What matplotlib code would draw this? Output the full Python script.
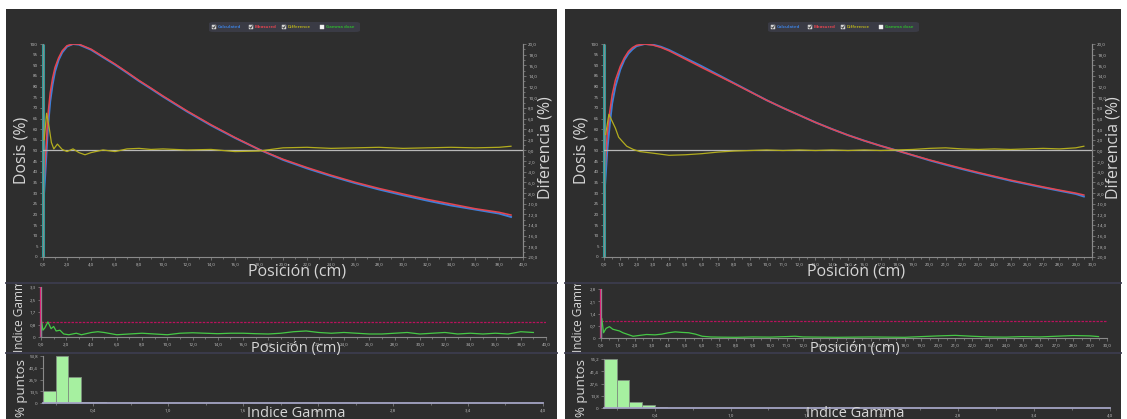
import matplotlib
matplotlib.use("Agg")
import matplotlib.pyplot as plt
from matplotlib.patches import Rectangle, FancyBboxPatch
from matplotlib.lines import Line2D
from matplotlib.ticker import MultipleLocator, FixedLocator, FuncFormatter
from matplotlib.transforms import Bbox, TransformedBbox

plt.rcParams['font.family'] = ['Open Sans', 'DejaVu Sans']

# ---------------- data: left panel (0-40 cm) ----------------
left_pos = [0, 0.2, 0.4, 0.6, 0.8, 1.0, 1.3, 1.6, 2.0, 2.5, 3, 4, 5, 6, 7, 8, 9, 10,
            12, 14, 16, 18, 20, 22, 24, 26, 28, 30, 32, 34, 36, 38, 39]
left_calc = [22, 40, 60, 73, 81, 87, 92.5, 96, 98.8, 100, 99.7, 97.3, 93.8, 90.3, 86.5,
             82.6, 79, 75.3, 68.3, 61.8, 55.9, 50.5, 45.6, 41.6, 38.0, 34.7, 31.7, 29.0,
             26.5, 24.2, 22.3, 20.4, 18.8]
left_meas = [26, 46, 66, 77, 84, 89, 93.5, 96.8, 99.2, 100, 99.9, 97.6, 94.1, 90.6, 86.8,
             82.9, 79.3, 75.6, 68.6, 62.1, 56.1, 50.5, 45.9, 42.0, 38.4, 35.1, 32.2, 29.6,
             27.1, 24.9, 22.7, 21.0, 19.7]
left_diff_pos = [0.1, 0.3, 0.5, 0.7, 0.9, 1.2, 1.6, 2.0, 2.5, 3.0, 3.5, 4.0, 5, 6, 7, 8, 9,
                 10, 12, 14, 16, 18, 20, 22, 24, 26, 28, 30, 32, 34, 36, 38, 39]
left_diff = [2.0, 7.0, 4.5, 1.5, 0.3, 1.2, 0.2, -0.2, 0.3, -0.4, -0.8, -0.4, 0.1, -0.2, 0.3,
             0.4, 0.2, 0.3, 0.1, 0.2, -0.2, -0.1, 0.5, 0.6, 0.4, 0.5, 0.6, 0.4, 0.5, 0.6,
             0.5, 0.6, 0.8]
left_gamma_pos = [0.05, 0.15, 0.3, 0.55, 0.8, 1.0, 1.2, 1.5, 1.8, 2.2, 2.8, 3.2, 4.0, 4.5,
                  5.0, 6, 7, 8, 9, 10, 11, 12, 13, 14, 15, 16, 17, 18, 19, 20, 21, 22, 23,
                  24, 25, 26, 27, 28, 29, 30, 31, 32, 33, 34, 35, 36, 37, 38, 39]
left_gamma = [1.0, 0.45, 0.6, 1.0, 0.55, 0.7, 0.4, 0.45, 0.2, 0.15, 0.25, 0.15, 0.3, 0.35,
              0.3, 0.15, 0.2, 0.25, 0.2, 0.15, 0.25, 0.28, 0.25, 0.22, 0.25, 0.25, 0.22,
              0.2, 0.25, 0.35, 0.4, 0.3, 0.25, 0.3, 0.25, 0.2, 0.2, 0.25, 0.3, 0.2, 0.25,
              0.3, 0.2, 0.25, 0.2, 0.25, 0.2, 0.35, 0.3]
left_hist_bins = [0.0, 0.1, 0.2, 0.3, 0.4]
left_hist_pct = [13.2, 53.8, 29.6, 1.6, 0.9]
left_gamma_max = 3.32
left_hist_max = 53.84

# ---------------- data: right panel (0-30 cm) ----------------
right_pos = [0, 0.1, 0.2, 0.35, 0.5, 0.7, 1.0, 1.25, 1.5, 1.75, 2.0, 2.5, 3, 3.5, 4, 5, 6,
             7, 8, 9, 10, 11, 12, 13, 14, 15, 16, 17, 18, 19, 20, 21, 22, 23, 24, 25, 26,
             27, 28, 29, 29.5]
right_calc = [26, 38, 50, 62, 72, 80, 88, 92.5, 95.5, 97.5, 99, 100, 99.7, 98.7, 97.2, 93.4,
              89.6, 85.6, 81.6, 77.6, 73.6, 70.0, 66.6, 63.2, 60.1, 57.2, 54.6, 52.2, 50.0,
              47.7, 45.4, 43.3, 41.3, 39.4, 37.6, 35.8, 34.2, 32.6, 31.1, 29.6, 28.4]
right_meas = [30, 45, 58, 68, 76, 83, 89.5, 93.5, 96.5, 98.3, 99.4, 100, 99.5, 98.4, 96.8,
              92.9, 89.0, 85.2, 81.4, 77.5, 73.6, 70.0, 66.6, 63.2, 60.1, 57.2, 54.6, 52.2,
              50.0, 47.8, 45.6, 43.6, 41.6, 39.7, 37.9, 36.1, 34.5, 32.9, 31.4, 30.0, 29.1]
right_diff_pos = [0.1, 0.3, 0.5, 0.7, 0.9, 1.1, 1.4, 1.8, 2.2, 3, 4, 5, 6, 7, 8, 9, 10, 11,
                  12, 13, 14, 15, 16, 17, 18, 19, 20, 21, 22, 23, 24, 25, 26, 27, 28, 29, 29.5]
right_diff = [3.0, 6.8, 5.5, 4.2, 2.5, 1.8, 0.8, 0.2, -0.2, -0.5, -0.9, -0.8, -0.6, -0.3,
              -0.1, 0.0, 0.1, 0.0, 0.1, 0.0, 0.1, 0.0, 0.1, 0.0, 0.1, 0.2, 0.4, 0.5, 0.3,
              0.2, 0.3, 0.2, 0.3, 0.4, 0.3, 0.5, 0.8]
right_gamma_pos = [0.05, 0.15, 0.3, 0.5, 0.7, 0.9, 1.1, 1.3, 1.6, 1.9, 2.3, 2.7, 3.2, 3.6,
                   4.0, 4.4, 4.8, 5.2, 5.6, 6.0, 6.5, 7, 8, 9, 10, 11, 11.5, 12, 13, 14, 15,
                   16, 17, 18, 19, 20, 21, 22, 23, 24, 25, 26, 27, 28, 29, 29.5]
right_gamma = [1.1, 0.3, 0.55, 0.65, 0.5, 0.45, 0.4, 0.3, 0.2, 0.1, 0.15, 0.2, 0.18, 0.22,
               0.3, 0.35, 0.32, 0.3, 0.22, 0.1, 0.06, 0.05, 0.04, 0.06, 0.05, 0.08, 0.1,
               0.06, 0.05, 0.04, 0.05, 0.06, 0.05, 0.04, 0.08, 0.12, 0.15, 0.1, 0.06, 0.05,
               0.08, 0.06, 0.1, 0.14, 0.12, 0.08]
right_hist_bins = [0.0, 0.1, 0.2, 0.3, 0.4, 0.5]
right_hist_pct = [55.2, 31.2, 6.8, 3.4, 0.8, 0.5]
right_gamma_max = 2.8
right_hist_max = 55.2

legend_items = ['Calculated', 'Measured', 'Difference', 'Gamma dose']

# ---------------- style ----------------
BG = '#2e2e2e'
BLUE = '#3d7fd9'
RED = '#e5454f'
OLIVE = '#b3ad1e'
GREEN = '#46c846'
TEAL = '#2a9e9a'
PINK = '#e0207a'
TXT = '#d6d6d6'
SPINE = '#8a8a8a'

W, H = 1127, 419
fig = plt.figure(figsize=(W / 100, H / 100), dpi=100, facecolor='white')


def fx(px):
    return px / W


def fy(py):
    return 1 - py / H


def axes_px(x0, y0, x1, y1):
    ax = fig.add_axes([fx(x0), fy(y1), (x1 - x0) / W, (y1 - y0) / H])
    ax.set_facecolor('none')
    return ax


def comma(fmt, zero=None):
    def f(v, p):
        if zero is not None and abs(v) < 1e-9:
            return zero
        return (fmt % v).replace('.', ',')
    return FuncFormatter(f)


def style(ax, spines=('left', 'bottom')):
    for name, sp in ax.spines.items():
        sp.set_visible(name in spines)
        sp.set_color(SPINE)
        sp.set_linewidth(0.8)
    ax.tick_params(which='both', colors=SPINE, labelcolor='#c4c4c4', labelsize=3.2,
                   width=0.5, pad=1.5)
    ax.tick_params(which='major', length=2.2)
    ax.tick_params(which='minor', length=1.2)


def label(x, y, s, size, rot=0, clip=None):
    t = fig.text(fx(x), fy(y), s, ha='center', va='center', rotation=rot,
                 fontsize=size, color=TXT)
    if clip is not None:
        bb = Bbox([[fx(clip[0]), fy(clip[3])], [fx(clip[2]), fy(clip[1])]])
        t.set_clip_box(TransformedBbox(bb, fig.transFigure))
        t.set_clip_on(True)
    return t


def legend(x0, y=27):
    fig.add_artist(FancyBboxPatch((fx(x0), fy(y + 5)), 151 / W, 10 / H,
                                  boxstyle='round,pad=0,rounding_size=0.004',
                                  fc='#3a3b45', ec='none', transform=fig.transFigure))
    offs = [3, 40, 73, 111]
    cols = [BLUE, RED, OLIVE, '#2fb02f']
    for i, (dx, lab, col) in enumerate(zip(offs, legend_items, cols)):
        checked = i < 3
        fig.add_artist(Rectangle((fx(x0 + dx), fy(y + 2)), 4 / W, 4 / H,
                                 fc='#d0d0d0' if checked else '#f4f4f4', ec='#e0e0e0',
                                 lw=0.3, transform=fig.transFigure))
        if checked:
            fig.add_artist(Line2D([fx(x0 + dx + 0.8), fx(x0 + dx + 1.8), fx(x0 + dx + 3.3)],
                                  [fy(y + 0.2), fy(y + 1.3), fy(y - 1.3)],
                                  color='#333333', lw=0.6, transform=fig.transFigure))
        fig.text(fx(x0 + dx + 6), fy(y), lab, color=col, fontsize=3.2, weight='bold',
                 ha='left', va='center')


def panel(px0, px1, g, xmax, xstep, pos, calc, meas, dpos, diff, gpos, gam, gmax,
          hbins, hpct, hmax):
    # background and separators
    fig.add_artist(Rectangle((fx(px0), 0), (px1 - px0) / W, fy(9), fc=BG, ec='none',
                             transform=fig.transFigure, zorder=-5))
    for yy in (283, 353):
        fig.add_artist(Line2D([fx(px0), fx(px1)], [fy(yy), fy(yy)], color='#3c3c4e',
                              lw=1.3, transform=fig.transFigure, zorder=-4))
    legend(px0 + 203)

    # dose profile
    ax = axes_px(g['dx0'], 44, g['dx1'], 257)
    style(ax, ('left', 'bottom', 'right'))
    ax.plot(pos, calc, color=BLUE, lw=1.4)
    ax.plot(pos, meas, color=RED, lw=1.1)
    ax.vlines(0, 0, 100, color=TEAL, lw=2.2, clip_on=False)
    ax.set_xlim(0, xmax)
    ax.set_ylim(0, 100)
    ax.xaxis.set_major_locator(MultipleLocator(xstep))
    ax.xaxis.set_minor_locator(MultipleLocator(xstep / 2))
    ax.xaxis.set_major_formatter(comma('%.1f'))
    ax.yaxis.set_major_locator(MultipleLocator(5))
    ax.yaxis.set_major_formatter(FuncFormatter(lambda v, p: '%d' % v))
    ax2 = ax.twinx()
    ax2.set_facecolor('none')
    style(ax2, ('right',))
    ax2.axhline(0, color='#b8b8b8', lw=0.9)
    ax2.plot(dpos, diff, color=OLIVE, lw=0.9)
    ax2.set_ylim(-20, 20)
    ax2.yaxis.set_major_locator(MultipleLocator(2))
    ax2.yaxis.set_minor_locator(MultipleLocator(1))
    ax2.yaxis.set_major_formatter(comma('%.1f'))

    # gamma index
    gx = axes_px(g['gx0'], g['gy0'], g['gx1'], g['gy1'])
    style(gx)
    gx.axhline(1, color='#b8125c', lw=0.9, ls=(0, (2, 1)))
    gx.vlines(0, 0, gmax, color=PINK, lw=1.6, clip_on=False)
    gx.vlines(0, 0, 1, color=TEAL, lw=1.0, clip_on=False)
    gx.plot(gpos, gam, color=GREEN, lw=0.9)
    gx.set_xlim(0, xmax)
    gx.set_ylim(0, gmax)
    gx.xaxis.set_major_locator(MultipleLocator(xstep))
    gx.xaxis.set_minor_locator(MultipleLocator(xstep / 2))
    gx.xaxis.set_major_formatter(comma('%.1f'))
    gx.yaxis.set_major_locator(FixedLocator([gmax * k / 4 for k in range(5)]))
    gx.yaxis.set_major_formatter(comma('%.1f', zero='0'))

    # histogram
    hx = axes_px(g['hx0'], g['hy0'], g['hx1'], g['hy1'])
    style(hx)
    hx.spines['bottom'].set_color('#a4a4c4')
    hx.spines['bottom'].set_linewidth(1.3)
    hx.bar(hbins, hpct, width=0.1, align='edge', color='#a6f0a0', edgecolor='#7f8f80',
           lw=0.6)
    hx.set_xlim(0, 4)
    hx.set_ylim(0, hmax)
    hx.xaxis.set_major_locator(FixedLocator([0.4 + 0.6 * k for k in range(7)]))
    hx.xaxis.set_minor_locator(FixedLocator([0.1 + 0.6 * k for k in range(7)]))
    hx.xaxis.set_major_formatter(comma('%.1f'))
    hx.yaxis.set_major_locator(FixedLocator([hmax * k / 4 for k in range(5)]))
    hx.yaxis.set_major_formatter(comma('%.1f', zero='0'))

    # axis titles
    label(px0 + 16, 150, 'Dosis (%)', 11.5, rot=90)
    label(g['dx1'] + 22, 148, 'Diferencia (%)', 11.5, rot=90)
    label(px0 + 291, 271, 'Posición (cm)', 11.5)
    label(px0 + 14, 312, 'Indice Gamma', 8.5, rot=90, clip=(px0, 284, px0 + 35, 353))
    label(px0 + 290, 348, 'Posición (cm)', 10.5)
    label(px0 + 16, 388, '% puntos', 9.5, rot=90)
    label(px0 + 290, 413, 'Indice Gamma', 10.5)


panel(6, 557, dict(dx0=43, dx1=523, gx0=41, gx1=546, gy0=287, gy1=337,
                   hx0=43, hx1=543, hy0=356, hy1=403),
      40, 2, left_pos, left_calc, left_meas, left_diff_pos, left_diff,
      left_gamma_pos, left_gamma, left_gamma_max,
      left_hist_bins, left_hist_pct, left_hist_max)

panel(565, 1121, dict(dx0=604, dx1=1092, gx0=601, gx1=1107, gy0=289, gy1=338,
                      hx0=604, hx1=1110, hy0=359, hy1=408),
      30, 1, right_pos, right_calc, right_meas, right_diff_pos, right_diff,
      right_gamma_pos, right_gamma, right_gamma_max,
      right_hist_bins, right_hist_pct, right_hist_max)

fig.savefig('out.png', dpi=100, facecolor='white')
